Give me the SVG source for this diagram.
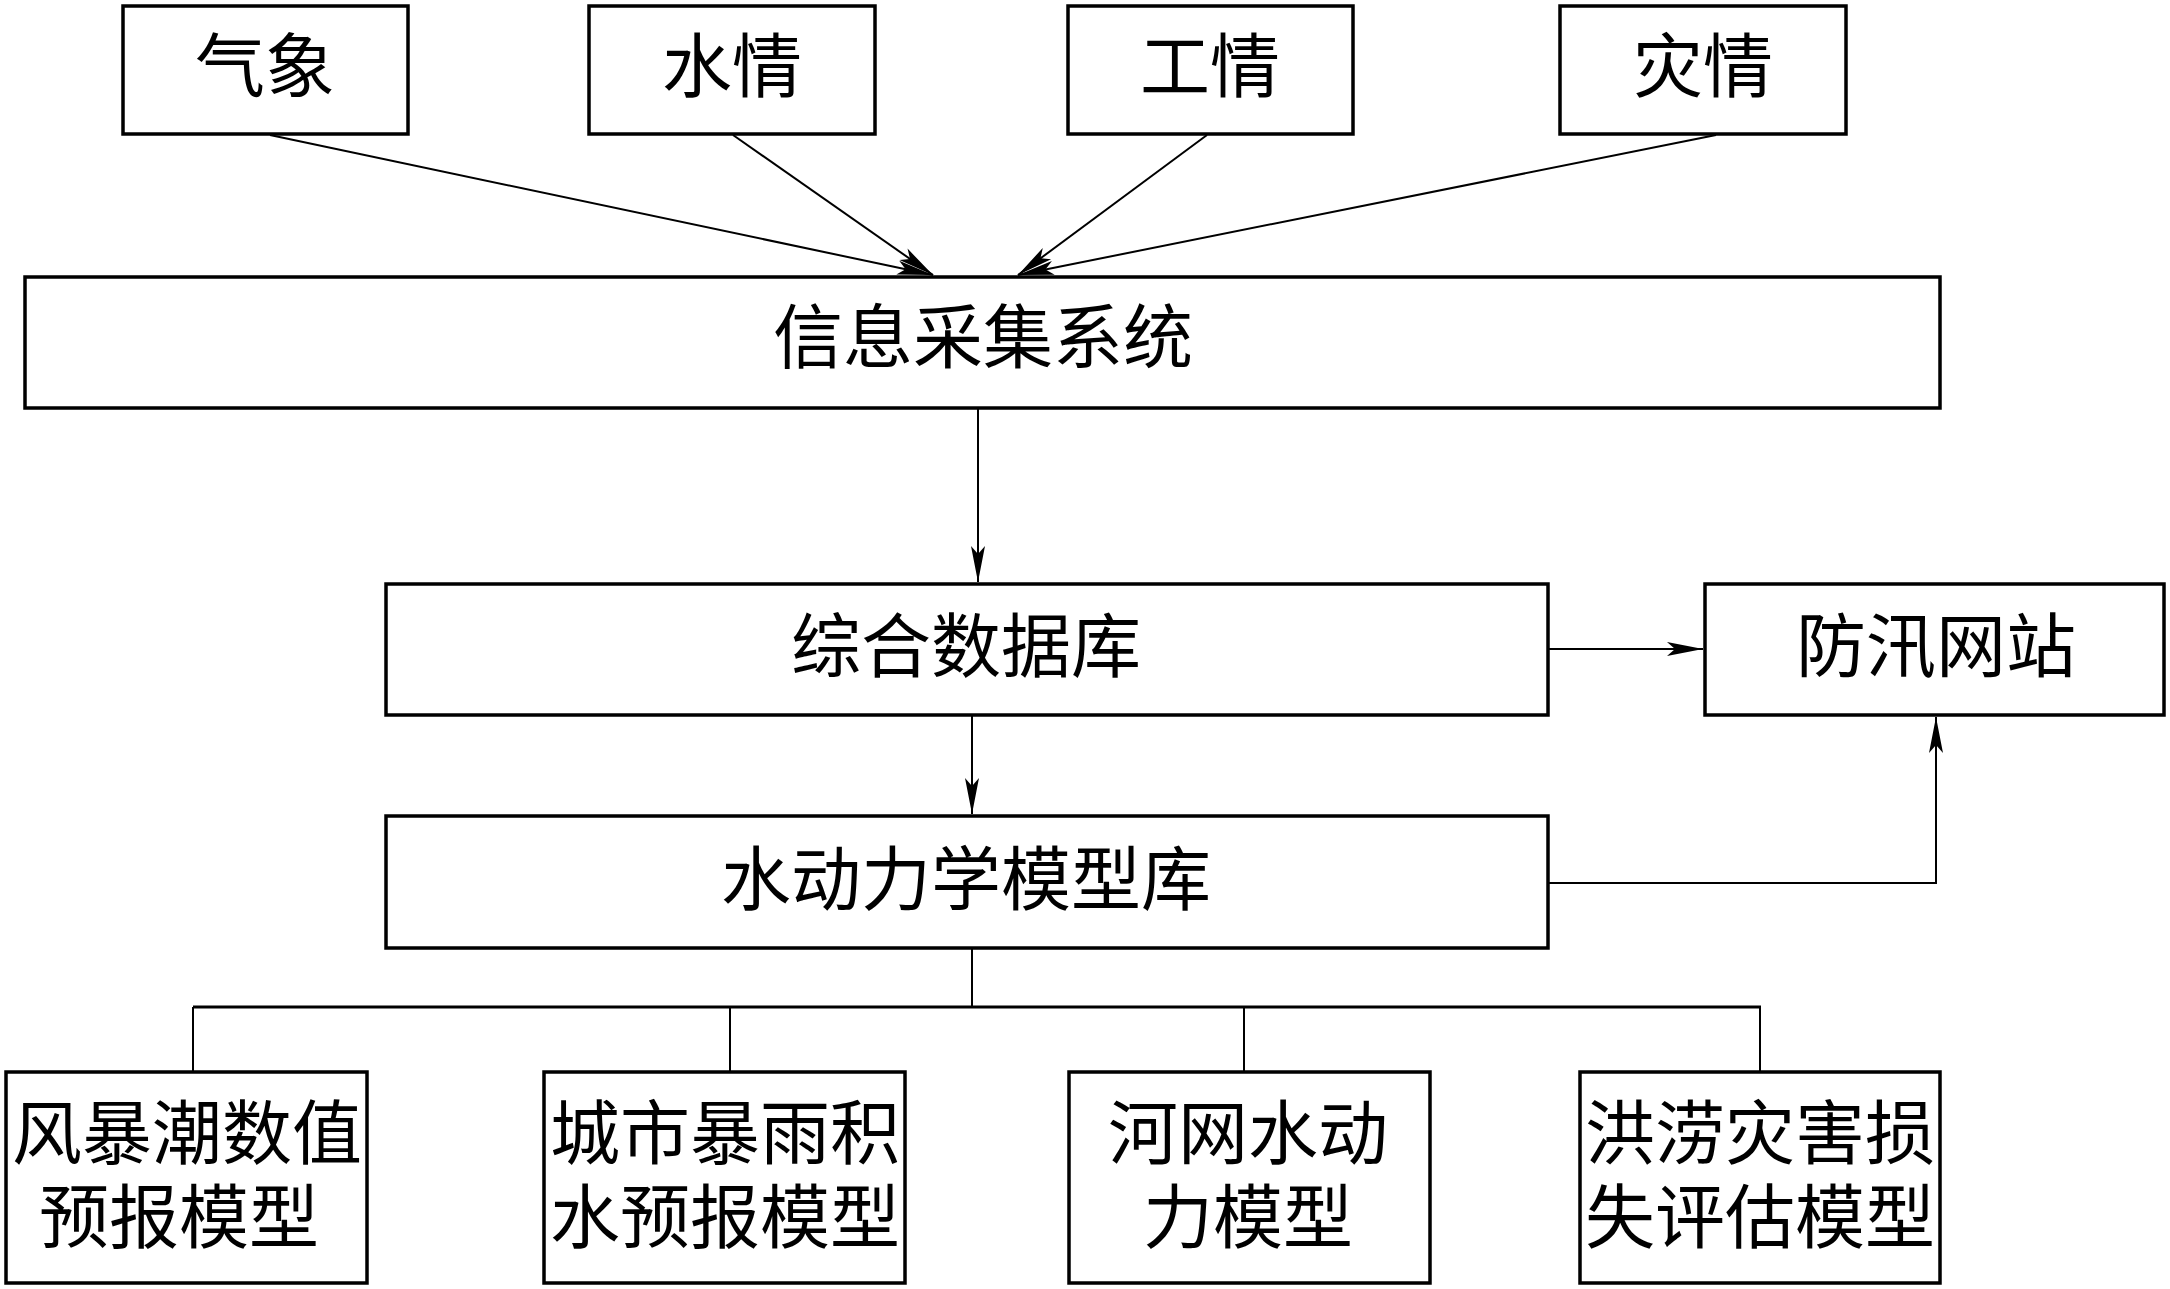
<svg xmlns="http://www.w3.org/2000/svg" width="2170" height="1289" viewBox="0 0 2170 1289">
<style>
.box{fill:#fff;stroke:#000;stroke-width:3.5}
.t{font-family:"Noto Sans CJK SC","Noto Sans CJK TC",sans-serif;font-size:70px;fill:#000;text-anchor:middle}
.c{fill:none;stroke:#000;stroke-width:2}
.bus{fill:none;stroke:#000;stroke-width:3}
</style>
<defs>
<marker id="ah" markerUnits="userSpaceOnUse" markerWidth="40" markerHeight="16" refX="36" refY="7" orient="auto" overflow="visible">
<path d="M0,0 L36,7 L0,14 L8,7 z" fill="#000"/>
</marker>
</defs>
<rect width="2170" height="1289" fill="#fff"/>
<g id="connectors">
<line class="c" x1="270" y1="135" x2="933" y2="275" marker-end="url(#ah)"/>
<line class="c" x1="733" y1="135" x2="933" y2="275" marker-end="url(#ah)"/>
<line class="c" x1="1207" y1="135" x2="1018" y2="275" marker-end="url(#ah)"/>
<line class="c" x1="1716" y1="135" x2="1018" y2="275" marker-end="url(#ah)"/>
<line class="c" x1="978" y1="408" x2="978" y2="582" marker-end="url(#ah)"/>
<line class="c" x1="1548" y1="649" x2="1703" y2="649" marker-end="url(#ah)"/>
<line class="c" x1="972" y1="716" x2="972" y2="814" marker-end="url(#ah)"/>
<polyline class="c" points="1548,883 1936,883 1936,717" marker-end="url(#ah)"/>
<line class="c" x1="972" y1="949" x2="972" y2="1007"/>
<line class="bus" x1="193" y1="1007" x2="1761" y2="1007"/>
<line class="c" x1="193" y1="1007" x2="193" y2="1072"/>
<line class="c" x1="730" y1="1007" x2="730" y2="1072"/>
<line class="c" x1="1244" y1="1007" x2="1244" y2="1072"/>
<line class="c" x1="1760" y1="1007" x2="1760" y2="1072"/>
</g>
<g id="n-qixiang"><rect class="box" x="123" y="6" width="285" height="128"/><text class="t" x="265" y="92">气象</text></g>
<g id="n-shuiqing"><rect class="box" x="589" y="6" width="286" height="128"/><text class="t" x="732" y="92">水情</text></g>
<g id="n-gongqing"><rect class="box" x="1068" y="6" width="285" height="128"/><text class="t" x="1210" y="92">工情</text></g>
<g id="n-zaiqing"><rect class="box" x="1560" y="6" width="286" height="128"/><text class="t" x="1703" y="92">灾情</text></g>
<g id="n-xinxi"><rect class="box" x="25" y="277" width="1915" height="131"/><text class="t" x="983" y="363">信息采集系统</text></g>
<g id="n-zonghe"><rect class="box" x="386" y="584" width="1162" height="131"/><text class="t" x="966" y="672">综合数据库</text></g>
<g id="n-fangxun"><rect class="box" x="1705" y="584" width="459" height="131"/><text class="t" x="1936" y="672">防汛网站</text></g>
<g id="n-shuidongli"><rect class="box" x="386" y="816" width="1162" height="132"/><text class="t" x="966" y="905">水动力学模型库</text></g>
<g id="n-fengbao"><rect class="box" x="6" y="1072" width="361" height="211"/><text class="t" x="187" y="1159">风暴潮数值</text><text class="t" x="179" y="1243">预报模型</text></g>
<g id="n-chengshi"><rect class="box" x="544" y="1072" width="361" height="211"/><text class="t" x="725" y="1159">城市暴雨积</text><text class="t" x="725" y="1243">水预报模型</text></g>
<g id="n-hewang"><rect class="box" x="1069" y="1072" width="361" height="211"/><text class="t" x="1248" y="1159">河网水动</text><text class="t" x="1248" y="1243">力模型</text></g>
<g id="n-honglao"><rect class="box" x="1580" y="1072" width="360" height="211"/><text class="t" x="1760" y="1159">洪涝灾害损</text><text class="t" x="1760" y="1243">失评估模型</text></g>
</svg>
